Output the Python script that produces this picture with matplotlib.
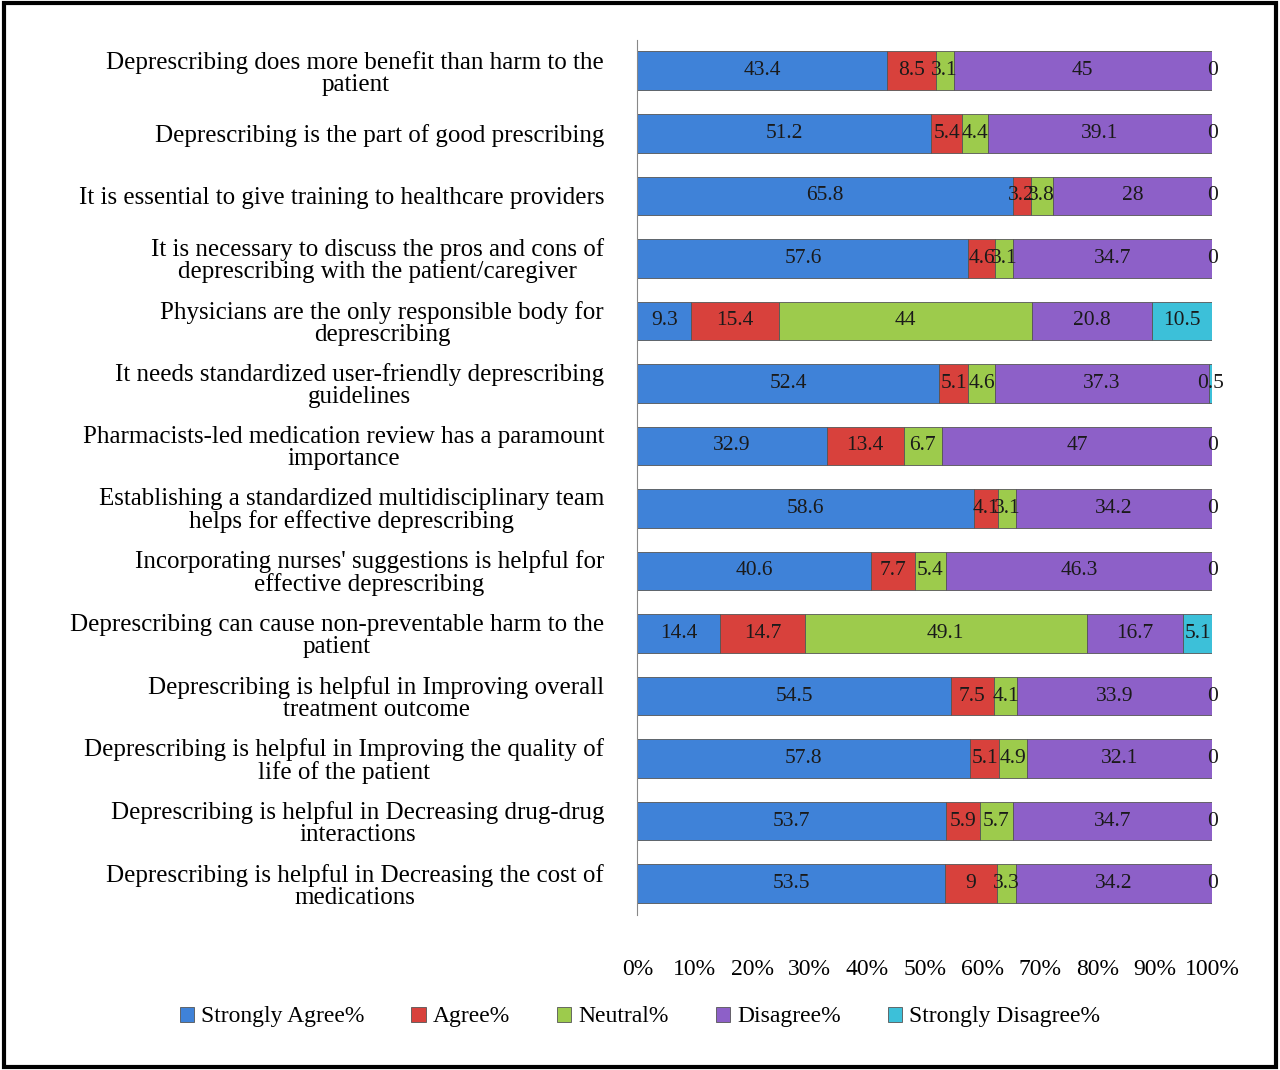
import matplotlib.pyplot as plt
import numpy as np

plt.rcParams['font.family'] = ['Liberation Serif', 'DejaVu Serif']

statements = [
    "Deprescribing does more benefit than harm to the\npatient",
    "Deprescribing is the part of good prescribing",
    "It is essential to give training to healthcare providers",
    "It is necessary to discuss the pros and cons of\ndeprescribing with the patient/caregiver",
    "Physicians are the only responsible body for\ndeprescribing",
    "It needs standardized user-friendly deprescribing\nguidelines",
    "Pharmacists-led medication review has a paramount\nimportance",
    "Establishing a standardized multidisciplinary team\nhelps for effective deprescribing",
    "Incorporating nurses' suggestions is helpful for\neffective deprescribing",
    "Deprescribing can cause non-preventable harm to the\npatient",
    "Deprescribing is helpful in Improving overall\ntreatment outcome",
    "Deprescribing is helpful in Improving the quality of\nlife of the patient",
    "Deprescribing is helpful in Decreasing drug-drug\ninteractions",
    "Deprescribing is helpful in Decreasing the cost of\nmedications",
]
strongly_agree = [43.4, 51.2, 65.8, 57.6, 9.3, 52.4, 32.9, 58.6, 40.6, 14.4, 54.5, 57.8, 53.7, 53.5]
agree = [8.5, 5.4, 3.2, 4.6, 15.4, 5.1, 13.4, 4.1, 7.7, 14.7, 7.5, 5.1, 5.9, 9]
neutral = [3.1, 4.4, 3.8, 3.1, 44, 4.6, 6.7, 3.1, 5.4, 49.1, 4.1, 4.9, 5.7, 3.3]
disagree = [45, 39.1, 28, 34.7, 20.8, 37.3, 47, 34.2, 46.3, 16.7, 33.9, 32.1, 34.7, 34.2]
strongly_disagree = [0, 0, 0, 0, 10.5, 0.5, 0, 0, 0, 5.1, 0, 0, 0, 0]

series = [
    ("Strongly Agree%", strongly_agree, "#3F82D8"),
    ("Agree%", agree, "#D8413C"),
    ("Neutral%", neutral, "#9DCB4C"),
    ("Disagree%", disagree, "#8D60C8"),
    ("Strongly Disagree%", strongly_disagree, "#3CC0D9"),
]

fig = plt.figure(figsize=(12.8, 10.7), dpi=100)
ax = fig.add_axes([0.498, 0.145, 0.449, 0.818])
y = np.arange(len(statements))
totals = np.array([sum(s[1][i] for s in series) for i in range(len(statements))])
left = np.zeros(len(statements))
for name, vals, color in series:
    v = np.array(vals, dtype=float)
    w = v / totals * 100
    ax.barh(y, w, left=left, height=0.62, color=color, edgecolor="#555555",
            linewidth=0.6, label=name)
    for yi, (l, wi, vi) in enumerate(zip(left, w, v)):
        ax.text(l + wi / 2, yi, f"{vi:g}", ha="center", va="center", fontsize=15.5, color="#1a1a1a")
    left += w

ax.set_ylim(len(statements) - 0.5, -0.5)
ax.set_xlim(0, 100)
ax.set_yticks(y)
ax.set_yticklabels(statements, fontsize=18, linespacing=1.0, multialignment="center")
ax.set_xticks(np.arange(0, 101, 10))
ax.set_xticklabels([f"{t}%" for t in range(0, 101, 10)], fontsize=17)
ax.tick_params(axis="y", length=0, pad=24)
ax.tick_params(axis="x", length=0, pad=32)
for s in ["top", "right", "bottom"]:
    ax.spines[s].set_visible(False)
ax.spines["left"].set_color("#888888")

fig.legend(loc="lower center", bbox_to_anchor=(0.5, 0.02), ncol=5, fontsize=17,
           frameon=False, handlelength=0.6, handleheight=0.6, columnspacing=2.0, handletextpad=0.3)

fig.patches.append(plt.Rectangle((0.003, 0.003), 0.994, 0.994, transform=fig.transFigure,
                                 fill=False, edgecolor="black", linewidth=3))
fig.savefig("out.png", dpi=100)
